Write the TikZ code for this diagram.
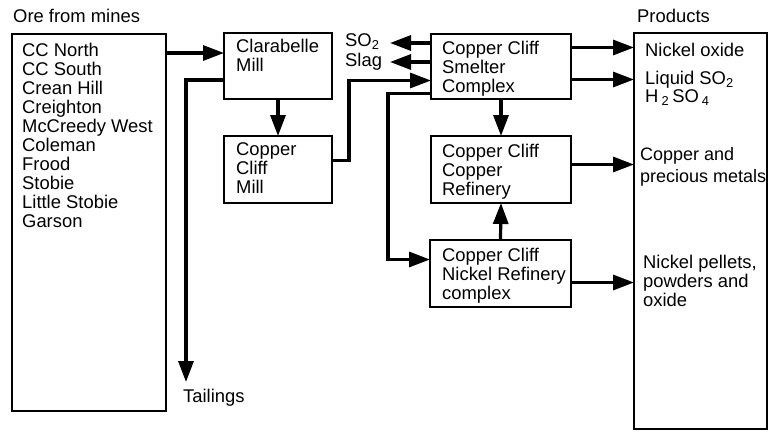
\documentclass[tikz,border=0pt]{standalone}
\usepackage{fontspec}
\setmainfont{Liberation Sans}
\usetikzlibrary{arrows.meta, calc}

\begin{document}
\begin{tikzpicture}[x=1pt, y=-1pt,
        box/.style={draw, line width=1.3pt, inner sep=0pt, outer sep=0pt, anchor=north west},
        txt/.style={anchor=north west, inner sep=0pt, align=left, font=\fontsize{18.4}{19}\selectfont},
        flow/.style={line width=3.2pt, -{Triangle[length=21pt, width=15pt]}}]
        \useasboundingbox (0,0) rectangle (776,431);

        % Titles
        \node[txt] (oretitle) at (13,9) {Ore from mines};
        \node[txt] (prodtitle) at (637,9) {Products};

        % Boxes
        \node[box, minimum width=154, minimum height=377] (ore) at (12,34) {};
        \node[box, minimum width=108, minimum height=66] (clara) at (224,33) {};
        \node[box, minimum width=108, minimum height=67] (ccmill) at (224,136) {};
        \node[box, minimum width=140, minimum height=65] (smelter) at (431,34) {};
        \node[box, minimum width=140, minimum height=67] (curef) at (431,136) {};
        \node[box, minimum width=141, minimum height=67] (niref) at (430,240) {};
        \node[box, minimum width=133, minimum height=396] (prod) at (634,33) {};

        % Box texts
        \node[txt] (mines) at (22,43) {CC North\\CC South\\Crean Hill\\Creighton\\McCreedy West\\Coleman\\Frood\\Stobie\\Little Stobie\\Garson};
        \node[txt] (claratxt) at (236,39) {Clarabelle\\Mill};
        \node[txt] (ccmilltxt) at (236,142) {Copper\\Cliff\\Mill};
        \node[txt] (smeltertxt) at (442,41) {Copper Cliff\\Smelter\\Complex};
        \node[txt] (cureftxt) at (442,144) {Copper Cliff\\Copper\\Refinery};
        \node[txt] (nireftxt) at (442,248) {Copper Cliff\\Nickel Refinery\\complex};

        % Side labels
        \node[txt] (so2) at (345,33) {SO\textsubscript{2}};
        \node[txt] (slag) at (345,53) {Slag};
        \node[txt] (tail) at (183,389) {Tailings};

        % Product texts
        \node[txt] (niox) at (645,43) {Nickel oxide};
        \node[txt, font=\fontsize{18.4}{18}\selectfont] (liqso2) at (645,71) {Liquid SO\textsubscript{2}\\H\,\textsubscript{2}\,SO\,\textsubscript{4}};
        \node[txt, font=\fontsize{18}{22}\selectfont] (cumet) at (640,147) {Copper and\\precious metals};
        \node[txt] (nipel) at (643,255) {Nickel pellets,\\powders and\\oxide};

        % Ore to the mills and tailings
        \coordinate (clarain) at ([yshift=13pt]clara.west);
        \draw[flow] (clarain -| ore.east) -- (clarain);
        \coordinate (tailout) at ([yshift=-14pt]clara.west);
        \draw[flow] (tailout) -| ([shift={(3pt,7pt)}]tail.north west);
        \draw[flow] (clara.south) -- (ccmill.north);

        % Mill to smelter
        \coordinate (millout) at ([yshift=9pt]ccmill.east);
        \coordinate (smeltin) at ([yshift=-14pt]smelter.west);
        \draw[flow] (millout) -- ++(17,0) |- (smeltin);

        % SO2 and slag
        \coordinate (so2tip) at (390,43);
        \coordinate (slagtip) at (390,62);
        \draw[flow] (so2tip -| smelter.west) -- (so2tip);
        \draw[flow] (slagtip -| smelter.west) -- (slagtip);

        % Smelter to refineries
        \coordinate (smeltout) at ([yshift=-27pt]smelter.west);
        \coordinate (niin) at ([yshift=14pt]niref.west);
        \draw[flow] (smeltout) -- ++(-43,0) |- (niin);
        \draw[flow] (smelter.south) -- (curef.north);
        \draw[flow] (niref.north) -- (curef.south);

        % Products
        \foreach \src/\dy [count=\i] in {smelter/19, smelter/-13, curef/5, niref/-9} {
            \coordinate (p\i) at ([yshift=\dy pt]\src.east);
            \draw[flow] (p\i) -- (p\i -| prod.west);
        }
    \end{tikzpicture}
\end{document}
